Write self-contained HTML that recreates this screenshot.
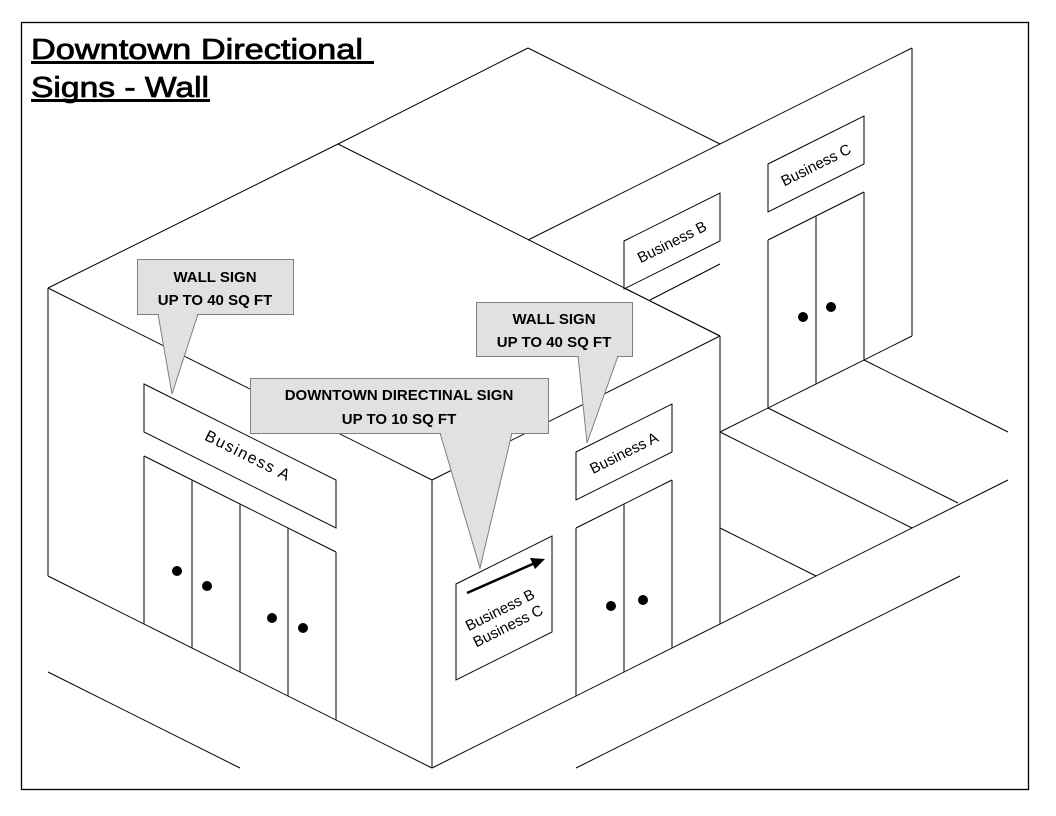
<!DOCTYPE html>
<html><head><style>html,body{margin:0;padding:0;background:#fff;}svg{display:block}</style></head>
<body>
<svg width="1056" height="816" xmlns="http://www.w3.org/2000/svg" font-family="Liberation Sans, Arial, sans-serif">
<rect x="21.5" y="22.5" width="1007" height="767" fill="#fff" stroke="#000" stroke-width="1.3"/>
<g stroke="#000" stroke-width="1" fill="none">
<line x1="338" y1="144" x2="528" y2="48"/>
<line x1="528" y1="48" x2="720" y2="144"/>
<line x1="528" y1="240" x2="912" y2="48"/>
<line x1="912" y1="48" x2="912" y2="336"/>
<line x1="48" y1="288" x2="338" y2="144"/>
<line x1="338" y1="144" x2="720" y2="336"/>
<line x1="48" y1="288" x2="432" y2="480"/>
<line x1="432" y1="480" x2="720" y2="336"/>
<line x1="48" y1="288" x2="48" y2="576"/>
<line x1="432" y1="480" x2="432" y2="768"/>
<line x1="48" y1="576" x2="432" y2="768"/>
<line x1="432" y1="768" x2="1008" y2="480"/>
<line x1="720" y1="336" x2="720" y2="624"/>
<line x1="650" y1="300" x2="720" y2="264"/>
<line x1="912" y1="336" x2="720" y2="432"/>
<line x1="768" y1="240" x2="864" y2="192"/>
<line x1="768" y1="240" x2="768" y2="408"/>
<line x1="816" y1="216" x2="816" y2="384"/>
<line x1="864" y1="192" x2="864" y2="360"/>
<line x1="864" y1="360" x2="1008" y2="432"/>
<line x1="768" y1="408" x2="958" y2="503"/>
<line x1="720" y1="432" x2="912" y2="528"/>
<line x1="720" y1="528" x2="816" y2="576"/>
<line x1="48" y1="672" x2="240" y2="768"/>
<line x1="576" y1="768" x2="960" y2="576"/>
<polygon points="768,164 864,116 864,164 768,212"/>
<polygon points="624,241 720,193 720,241 624,289" fill="#fff"/>
<polygon points="144,384 336,480 336,528 144,432" fill="#fff"/>
<polygon points="576,452 672,404 672,452 576,500"/>
<polygon points="456,584 552,536 552,632 456,680"/>
<line x1="144" y1="456" x2="336" y2="552"/>
<line x1="144" y1="456" x2="144" y2="624"/>
<line x1="192" y1="480" x2="192" y2="648"/>
<line x1="240" y1="504" x2="240" y2="672"/>
<line x1="288" y1="528" x2="288" y2="696"/>
<line x1="336" y1="552" x2="336" y2="720"/>
<line x1="576" y1="528" x2="672" y2="480"/>
<line x1="576" y1="528" x2="576" y2="696"/>
<line x1="624" y1="504" x2="624" y2="672"/>
<line x1="672" y1="480" x2="672" y2="648"/>
</g>
<line x1="624" y1="288" x2="720" y2="336" stroke="#000" stroke-width="1"/>
<g fill="#000">
<circle cx="177" cy="571" r="5"/><circle cx="207" cy="586" r="5"/>
<circle cx="272" cy="618" r="5"/><circle cx="303" cy="628" r="5"/>
<circle cx="611" cy="606" r="5"/><circle cx="643" cy="600" r="5"/>
<circle cx="803" cy="317" r="5"/><circle cx="831" cy="307" r="5"/>
</g>
<line x1="467" y1="593" x2="535" y2="563" stroke="#000" stroke-width="2.5"/>
<polygon points="545,559 530,558 535,569" fill="#000"/>
<g font-size="15" fill="#000">
<text x="816" y="170" text-anchor="middle" transform="rotate(-26.57 816 165)">Business C</text>
<text x="672" y="247" text-anchor="middle" transform="rotate(-26.57 672 242)">Business B</text>
<text x="624" y="458" text-anchor="middle" transform="rotate(-26.57 624 453)">Business A</text>
<text x="248" y="461" text-anchor="middle" transform="rotate(26.57 248 456)" letter-spacing="1.5" font-size="16">Business A</text>
<text x="500" y="615" text-anchor="middle" transform="rotate(-26.57 500 610)">Business B</text>
<text x="508" y="631" text-anchor="middle" transform="rotate(-26.57 508 626)">Business C</text>
</g>
<g fill="#e1e1e1" stroke="#808080" stroke-width="1">
<polygon points="158,314 198,314 172,394"/>
<rect x="137.5" y="259.5" width="156" height="55"/>
<polygon points="578,356 618,356 587,443"/>
<rect x="476.5" y="302.5" width="156" height="54"/>
<polygon points="440,433 512,433 480,568"/>
<rect x="250.5" y="378.5" width="298" height="55"/>
</g>
<g fill="#e1e1e1">
<rect x="159" y="313" width="38" height="2"/>
<rect x="579" y="355" width="38" height="2"/>
<rect x="441" y="432" width="70" height="2"/>
</g>
<g font-size="15" font-weight="bold" fill="#000" text-anchor="middle">
<text x="215" y="282">WALL SIGN</text>
<text x="215" y="305">UP TO 40 SQ FT</text>
<text x="554" y="324">WALL SIGN</text>
<text x="554" y="347">UP TO 40 SQ FT</text>
<text x="399" y="400">DOWNTOWN DIRECTINAL SIGN</text>
<text x="399" y="424">UP TO 10 SQ FT</text>
</g>
<g font-size="29" fill="#000" stroke="#000" stroke-width="0.8">
<text x="31" y="59" textLength="332" lengthAdjust="spacingAndGlyphs">Downtown Directional</text>
<text x="31" y="97" textLength="178" lengthAdjust="spacingAndGlyphs">Signs - Wall</text>
</g>
<rect x="31" y="61" width="343" height="3" fill="#000"/>
<rect x="31" y="99" width="179" height="3" fill="#000"/>
</svg>
</body></html>
